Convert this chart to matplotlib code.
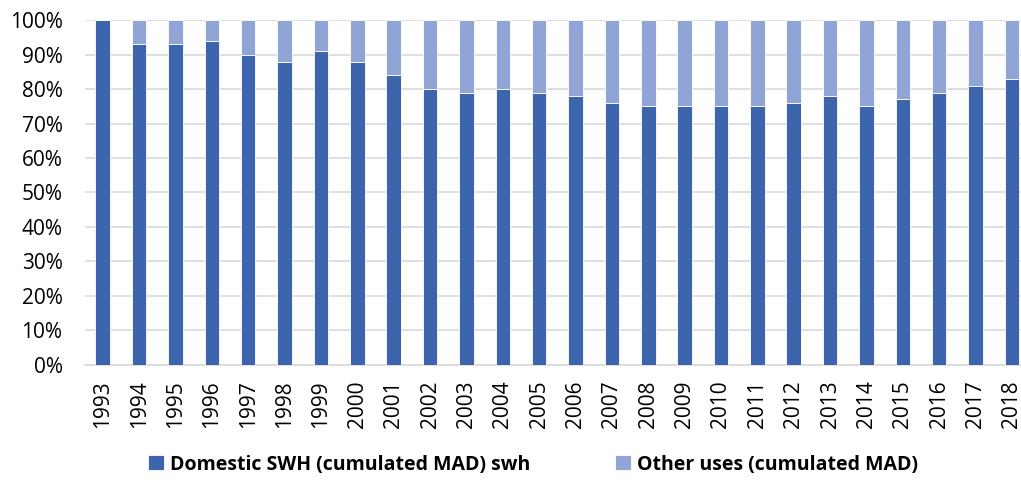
import numpy as np
import matplotlib.pyplot as plt
from matplotlib.ticker import PercentFormatter

years = [str(y) for y in range(1993, 2019)]
domestic = [100, 93, 93, 94, 90, 88, 91, 88, 84, 80, 79, 80, 79,
            78, 76, 75, 75, 75, 75, 76, 78, 75, 77, 79, 81, 83]
other = [100 - d for d in domestic]

plt.rcParams['font.family'] = ['Open Sans', 'DejaVu Sans']

fig = plt.figure(figsize=(10.21, 4.8), dpi=100)
ax = fig.add_axes([0.083, 0.240, 0.917, 0.718])

x = np.arange(len(years))
ax.bar(x, domestic, width=0.4, color='#3D65AD', edgecolor='white', linewidth=0.6,
       label='Domestic SWH (cumulated MAD) swh', zorder=3)
ax.bar(x, other, bottom=domestic, width=0.4, color='#90A5D5', edgecolor='white',
       linewidth=0.6, label='Other uses (cumulated MAD)', zorder=3)

ax.set_xlim(-0.495, 25.25)
ax.set_ylim(0, 100)
ax.set_yticks(range(0, 101, 10))
ax.yaxis.set_major_formatter(PercentFormatter(decimals=0))
ax.set_xticks(x)
ax.set_xticklabels(years, rotation=90)
ax.tick_params(axis='both', length=0, labelsize=15, colors='black')
ax.tick_params(axis='x', pad=11)
ax.tick_params(axis='y', pad=16)
ax.grid(axis='y', color='#D9D9D9', linewidth=1.2, zorder=0)
for s in ['top', 'right', 'left']:
    ax.spines[s].set_visible(False)
ax.spines['bottom'].set_color('#D9D9D9')
ax.spines['bottom'].set_linewidth(1.2)

leg = fig.legend(loc='center', bbox_to_anchor=(0.522, 0.032), ncol=2, frameon=False,
                 prop={'weight': 'bold', 'size': 14}, handlelength=0.8,
                 handleheight=0.8, handletextpad=0.3, columnspacing=4.4)

fig.savefig('out.png', dpi=100)
